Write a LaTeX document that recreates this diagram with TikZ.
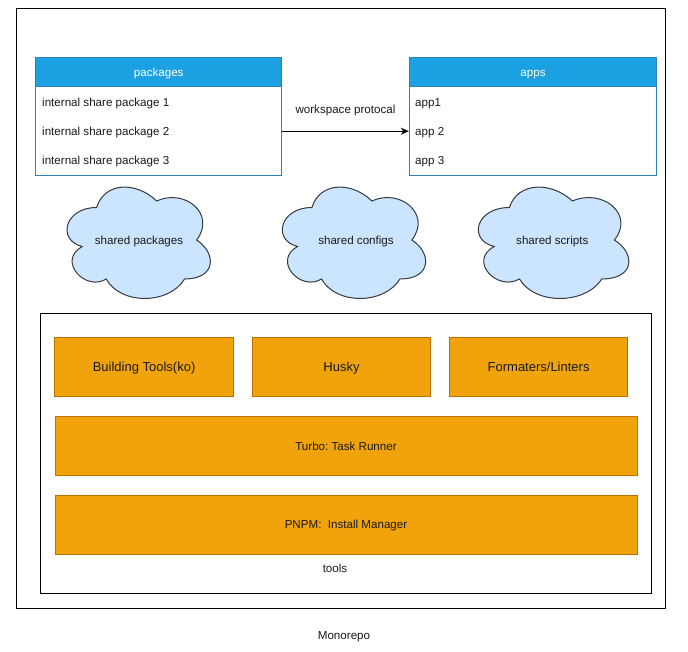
\documentclass[tikz,border=0pt]{standalone}
\usepackage{fontspec}
\setmainfont{Liberation Sans}
\usetikzlibrary{arrows.meta}
\definecolor{hdr}{HTML}{1BA1E2}
\definecolor{hdrline}{HTML}{2A80C0}
\definecolor{cloudfill}{HTML}{CCE5FF}
\definecolor{cloudline}{HTML}{36393D}
\definecolor{orfill}{HTML}{F0A30A}
\definecolor{orline}{HTML}{BD7000}
\definecolor{ink}{HTML}{1A1A1A}
\tikzset{
  sm/.style={font=\fontsize{11.6}{13}\selectfont\frenchspacing, text=ink, inner sep=0pt, text height=11.3pt, text depth=2.4pt},
  lg/.style={font=\fontsize{13}{15}\selectfont\frenchspacing, text=ink, inner sep=0pt, text height=12.2pt, text depth=2.7pt},
  hdrbox/.style={sm, draw=hdrline, fill=hdr, text=white, line width=1pt, minimum height=29pt},
  bodybox/.style={draw=hdrline, fill=white, line width=1pt, minimum height=89pt, inner sep=0pt},
  orbox/.style={draw=orline, fill=orfill, line width=1pt, minimum height=59pt},
  frame/.style={draw=black, line width=1pt, inner sep=0pt},
  cloudsty/.style={draw=cloudline, fill=cloudfill, line width=1pt},
  arr/.style={draw=black, line width=1pt, -{Stealth[length=8pt,width=7pt,inset=2.5pt]}}
}
\newcommand\mycloud[4]{%
  \begin{scope}[shift={(#1,#2)},xscale=#3,yscale=#4]
    \draw[cloudsty] (0.25,0.25) .. controls (0.05,0.25) and (0,0.5) .. (0.16,0.55)
      .. controls (0,0.66) and (0.18,0.9) .. (0.31,0.8)
      .. controls (0.4,1) and (0.7,1) .. (0.8,0.8)
      .. controls (1,0.8) and (1,0.6) .. (0.875,0.5)
      .. controls (1,0.3) and (0.8,0.1) .. (0.625,0.2)
      .. controls (0.5,0.05) and (0.3,0.05) .. (0.25,0.25) -- cycle;
  \end{scope}}
\begin{document}
\begin{tikzpicture}[x=1pt,y=-1pt]
\useasboundingbox[fill=white] (0,0) rectangle (688,652);

% outer frame
\node[frame, minimum width=649pt, minimum height=599.5pt] (mono) at (340.5,308.3) {};
\node[sm] (monolbl) at (344,635) {Monorepo};

% packages table
\node[bodybox, minimum width=246pt] (pkg) at (158.7,131.2) {};
\node[hdrbox, minimum width=246pt] (pkgh) at (158.7,72.1) {packages};
\node[sm, anchor=west] (p1) at (42,102.3) {internal share package 1};
\node[sm, anchor=west] (p2) at (42,131) {internal share package 2};
\node[sm, anchor=west] (p3) at (42,160) {internal share package 3};

% apps table
\node[bodybox, minimum width=247.4pt] (apps) at (533,131.2) {};
\node[hdrbox, minimum width=247.4pt] (appsh) at (533,72.1) {apps};
\node[sm, anchor=west] (a1) at (415,102.3) {app1};
\node[sm, anchor=west] (a2) at (415,131) {app 2};
\node[sm, anchor=west] (a3) at (415,160) {app 3};

% connector
\draw[arr] (pkg.east |- apps.center) -- (apps.west);
\node[sm] (proto) at (345.5,109.3) {workspace protocal};

% clouds
\mycloud{56.6}{175}{160}{130}
\node[sm] (c1) at (139,240) {shared packages};
\mycloud{271.9}{175}{160}{130}
\node[sm] (c2) at (356,240) {shared configs};
\mycloud{467.4}{175}{168}{130}
\node[sm] (c3) at (552.3,240) {shared scripts};

% tools frame
\node[frame, minimum width=610.5pt, minimum height=280pt] (tools) at (346.2,453.3) {};
\node[orbox, lg, minimum width=178.3pt] (build) at (144.1,367) {Building Tools(ko)};
\node[orbox, lg, minimum width=178.3pt] (husky) at (341.5,367) {Husky};
\node[orbox, lg, minimum width=178.3pt] (lint) at (538.6,367) {Formaters/Linters};
\node[orbox, sm, minimum width=582pt] (turbo) at (346,446) {Turbo: Task Runner};
\node[orbox, sm, minimum width=582pt] (pnpm) at (346,524.5) {PNPM:\ \ Install Manager};
\node[sm] (toolslbl) at (335,568) {tools};
\end{tikzpicture}
\end{document}
